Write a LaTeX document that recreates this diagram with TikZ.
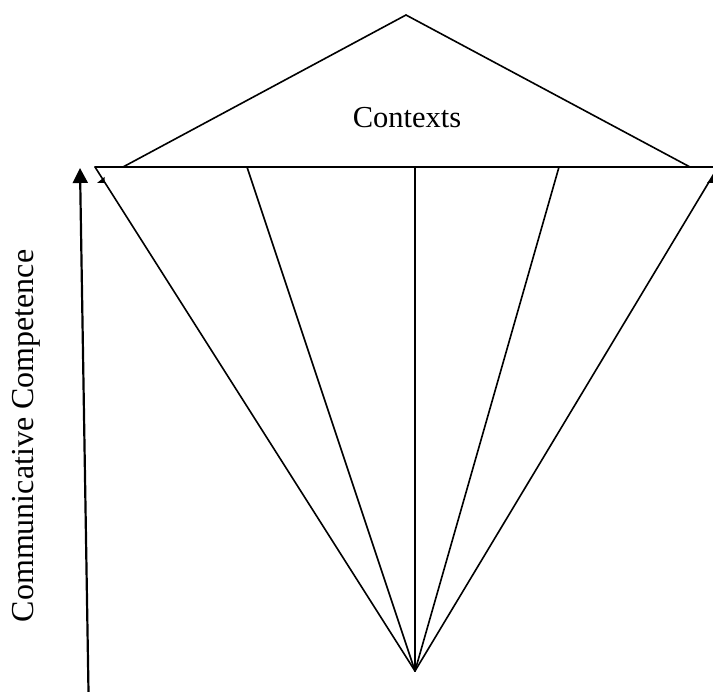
\documentclass[tikz,border=0pt]{standalone}
\usepackage{fontspec}
\setmainfont{Liberation Serif}
\usetikzlibrary{arrows.meta}
\begin{document}
\begin{tikzpicture}[x=1pt,y=-1pt,
  ln/.style={line width=1.6pt, line cap=round, line join=miter},
  lbl/.style={inner sep=0pt, anchor=base, font=\fontsize{30.5}{36}\selectfont}]
\useasboundingbox (0,0) rectangle (713,692);
\clip (0,0) rectangle (713,692);
% coordinates
\coordinate (apex) at (406,15);
\coordinate (bl) at (123,167);
\coordinate (br) at (690,167);
\coordinate (hl) at (95,167);
\coordinate (hr) at (714,167);
\coordinate (bot) at (415,671);
\coordinate (t1) at (247,167);
\coordinate (t2) at (415,167);
\coordinate (t3) at (559,167);
\coordinate (t4) at (718,167);
\coordinate (ab) at (88.5,692);
\coordinate (at) at (80,168);
% upper triangle
\draw[ln] (bl) -- (apex) -- (br);
% horizontal line
\draw[ln] (hl) -- (hr);
% fan lines
\draw[ln] (hl) -- (bot);
\draw[ln] (t1) -- (bot);
\draw[ln] (t2) -- (bot);
\draw[ln] (t3) -- (bot);
\draw[ln] (t4) -- (bot);
% small wedge fragments
\fill (97,183) -- (104.5,183) -- (104.5,177) -- cycle;
\fill (707,183) -- (713,183) -- (713,176) -- cycle;
% arrow
\draw[line width=2.2pt, -{Triangle[width=15pt,length=15pt]}] (ab) -- (at);
% labels
\node[lbl] (ctx) at (407,128) {Contexts};
\node[lbl, rotate=90, font=\fontsize{32}{38}\selectfont] (cc) at (33,436) {Communicative Competence};
\end{tikzpicture}
\end{document}
